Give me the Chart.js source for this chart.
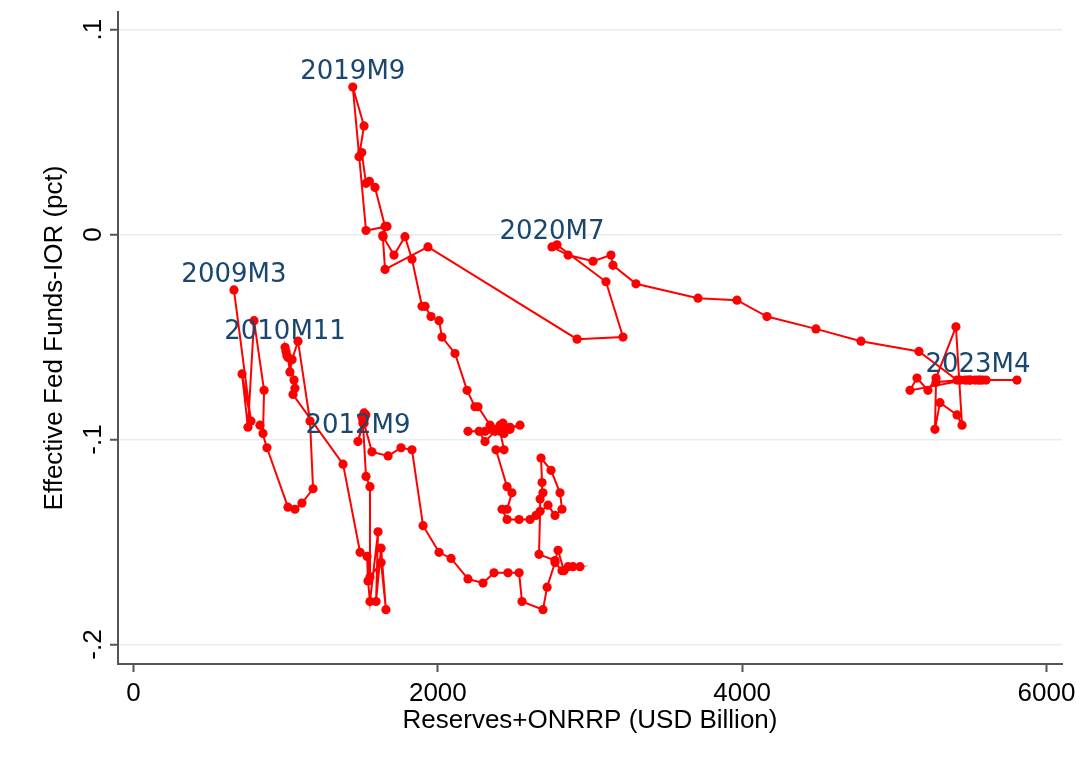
<!DOCTYPE html>
<html>
<head>
<meta charset="utf-8">
<script src="https://cdn.jsdelivr.net/npm/chart.js@4/dist/chart.umd.min.js"></script>
<style>
  html, body { margin: 0; padding: 0; background: #ffffff; }
  #wrap { width: 1076px; height: 762px; }
</style>
</head>
<body>
<div id="wrap"><canvas id="c" width="1076" height="762"></canvas></div>
<script>
// Monthly observations, 2009M3 through 2023M4
// Reserves + ON RRP balances, USD billion
const reserves = [
  660, 772, 713, 752, 792, 858, 851, 831, 877, 1015, 1061, 1107, 1180, 1160, 1081, 1042, 1028, 1015, 1008, 1002, 996,
  1055, 1061, 1048, 1377, 1489, 1535, 1541, 1554, 1607, 1594, 1627, 1659, 1627, 1554, 1554, 1528, 1508, 1521, 1502, 1515, 1508, 1475,
  1527, 1515, 1567,
  1673, 1758, 1830, 1903, 2008, 2087, 2198, 2297, 2369, 2461, 2534, 2553,
  2691, 2718, 2770, 2816, 2934, 2888, 2856, 2829, 2790, 2770, 2665, 2672,
  2672, 2691, 2685, 2678, 2744, 2803, 2816, 2770, 2724, 2645, 2606, 2534,
  2455, 2422, 2455, 2487, 2455, 2382, 2435, 2409, 2428, 2474, 2540, 2455,
  2409, 2376, 2343, 2435, 2474, 2409, 2376, 2310, 2271, 2198, 2310, 2343,
  2264, 2244, 2192, 2113, 2027, 2008, 1955, 1916, 1896, 1830, 1784, 1712,
  1640, 1653, 1587, 1550, 1528, 1500, 1482, 1515, 1441,
  1528, 1666, 1638, 1653, 1935, 2915, 3217, 3105, 2783, 2750,
  2856, 3020, 3138, 3151, 3302, 3710, 3966, 4163, 4485, 4781, 5162,
  5412, 5603, 5806, 5563, 5497, 5465, 5103, 5149, 5221, 5274, 5405, 5445, 5412, 5300, 5267, 5274, 5433, 5480, 5530, 5580, 5500, 5550
];

// Effective fed funds rate minus interest on reserves, percentage points
const spread = [
  -0.027, -0.091, -0.068, -0.094, -0.042, -0.076, -0.097, -0.093, -0.104, -0.133, -0.134, -0.131, -0.124, -0.091, -0.052, -0.061, -0.067, -0.060, -0.059, -0.057, -0.055,
  -0.071, -0.075, -0.078, -0.112, -0.155, -0.157, -0.169, -0.179, -0.145, -0.179, -0.153, -0.183, -0.160, -0.167, -0.123, -0.118, -0.092, -0.088, -0.089, -0.087, -0.091, -0.101,
  -0.088, -0.092, -0.106,
  -0.108, -0.104, -0.105, -0.142, -0.155, -0.158, -0.168, -0.170, -0.165, -0.165, -0.165, -0.179,
  -0.183, -0.172, -0.160, -0.164, -0.162, -0.162, -0.162, -0.164, -0.154, -0.159, -0.156, -0.135,
  -0.129, -0.126, -0.121, -0.109, -0.115, -0.126, -0.134, -0.137, -0.132, -0.137, -0.139, -0.139,
  -0.139, -0.134, -0.134, -0.126, -0.123, -0.105, -0.105, -0.096, -0.092, -0.094, -0.093, -0.095,
  -0.093, -0.095, -0.095, -0.097, -0.095, -0.094, -0.096, -0.101, -0.096, -0.096, -0.096, -0.093,
  -0.084, -0.084, -0.076, -0.058, -0.050, -0.042, -0.040, -0.035, -0.035, -0.012, -0.001, -0.010,
  -0.001, 0.004, 0.023, 0.026, 0.025, 0.040, 0.038, 0.053, 0.072,
  0.002, 0.004, -0.0005, -0.017, -0.006, -0.051, -0.050, -0.023, -0.005, -0.006,
  -0.010, -0.013, -0.010, -0.015, -0.024, -0.031, -0.032, -0.040, -0.046, -0.052, -0.057,
  -0.071, -0.071, -0.071, -0.071, -0.071, -0.071, -0.076, -0.070, -0.076, -0.070, -0.045, -0.093, -0.088, -0.082, -0.095, -0.072, -0.071, -0.071, -0.071, -0.071, -0.071, -0.071
];

const firstYear = 2009;
const firstMonth = 3;

// Periods whose markers carry a text label
const labelPeriods = ['2009M3', '2010M11', '2012M9', '2019M9', '2020M7', '2023M4'];

const xTicks = [0, 2000, 4000, 6000];
const xTickLabels = ['0', '2000', '4000', '6000'];
const yTicks = [-0.2, -0.1, 0, 0.1];
const yTickLabels = ['-.2', '-.1', '0', '.1'];

const xTitle = 'Reserves+ONRRP (USD Billion)';
const yTitle = 'Effective Fed Funds-IOR (pct)';

const AXIS = '#555555';
const RED = '#ff0000';
const NAVY = '#1a476f';
const SANS = "'Liberation Sans', Arial, sans-serif";

const points = reserves.map((r, i) => ({ x: r, y: spread[i] }));

function periodIndex(p) {
  const m = /^(\d{4})M(\d{1,2})$/.exec(p);
  return (Number(m[1]) - firstYear) * 12 + (Number(m[2]) - firstMonth);
}

// Rotated y-axis tick labels
const yTickText = {
  id: 'yTickText',
  afterDraw(chart) {
    const ctx = chart.ctx;
    const ys = chart.scales.y;
    ctx.save();
    ctx.fillStyle = '#000';
    ctx.font = '26px ' + SANS;
    ctx.textAlign = 'center';
    ctx.textBaseline = 'middle';
    yTicks.forEach((v, i) => {
      const py = ys.getPixelForValue(v);
      ctx.save();
      ctx.translate(ys.right - 24, py);
      ctx.rotate(-Math.PI / 2);
      ctx.fillText(yTickLabels[i], 0, 0);
      ctx.restore();
    });
    ctx.restore();
  }
};

// Period labels above selected markers
const periodText = {
  id: 'periodText',
  afterDatasetsDraw(chart) {
    const ctx = chart.ctx;
    const meta = chart.getDatasetMeta(0);
    ctx.save();
    ctx.fillStyle = NAVY;
    ctx.font = "26px 'DejaVu Sans', sans-serif";
    ctx.textAlign = 'center';
    ctx.textBaseline = 'middle';
    labelPeriods.forEach(p => {
      const el = meta.data[periodIndex(p)];
      if (el) ctx.fillText(p, el.x, el.y - 15);
    });
    ctx.restore();
  }
};

new Chart(document.getElementById('c'), {
  type: 'scatter',
  data: {
    datasets: [{
      data: points,
      showLine: true,
      borderColor: RED,
      borderWidth: 2,
      backgroundColor: RED,
      pointBackgroundColor: RED,
      pointBorderWidth: 0,
      pointRadius: 4.6,
      pointHoverRadius: 4.6,
      tension: 0
    }]
  },
  options: {
    responsive: false,
    animation: false,
    devicePixelRatio: 1,
    layout: { padding: { top: 12, right: 14, left: 0, bottom: 0 } },
    plugins: { legend: { display: false }, tooltip: { enabled: false } },
    scales: {
      x: {
        type: 'linear',
        min: -102,
        max: 6102,
        afterBuildTicks: s => { s.ticks = xTicks.map(v => ({ value: v })); },
        afterFit: s => { s.height = 98; s.paddingLeft = 0; s.paddingRight = 0; },
        ticks: {
          color: '#000',
          font: { family: SANS, size: 26 },
          padding: 6,
          maxRotation: 0,
          minRotation: 0,
          callback: v => xTickLabels[xTicks.indexOf(v)]
        },
        grid: { drawOnChartArea: false, drawTicks: true, tickLength: 8, tickColor: AXIS, tickWidth: 2 },
        border: { display: true, color: AXIS, width: 2 },
        title: {
          display: true,
          text: xTitle,
          color: '#000',
          font: { family: SANS, size: 26 },
          padding: { top: 0, bottom: 26 }
        }
      },
      y: {
        type: 'linear',
        min: -0.2095,
        max: 0.1086,
        afterBuildTicks: s => { s.ticks = yTicks.map(v => ({ value: v })); },
        afterFit: s => { s.width = 118; s.paddingTop = 0; s.paddingBottom = 0; },
        ticks: { display: false },
        grid: { color: '#e4edf0', lineWidth: 1.5, drawTicks: true, tickLength: 8, tickColor: AXIS, tickWidth: 2 },
        border: { display: true, color: AXIS, width: 2 },
        title: {
          display: true,
          text: yTitle,
          color: '#000',
          font: { family: SANS, size: 26 },
          padding: { top: 39, bottom: 0 }
        }
      }
    }
  },
  plugins: [yTickText, periodText]
});
</script>
</body>
</html>
